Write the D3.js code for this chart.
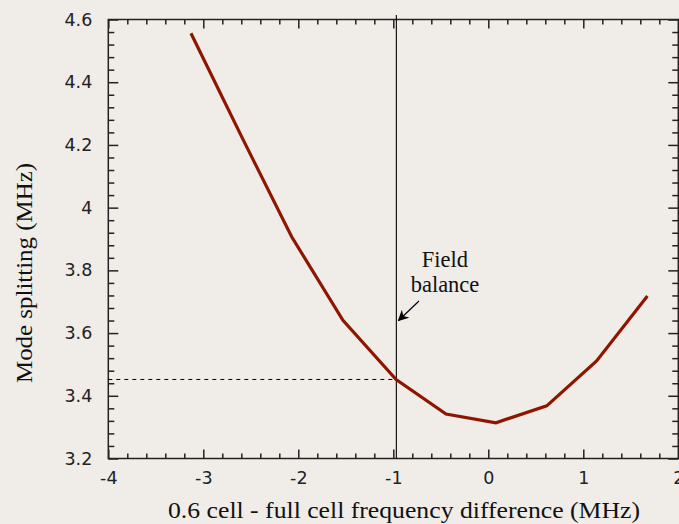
<!DOCTYPE html>
<html><head><meta charset="utf-8">
<script src="https://cdn.jsdelivr.net/npm/d3@7"></script>
<style>
html,body{margin:0;padding:0;background:#f0ece8;}
svg{display:block;}
</style></head>
<body>
<svg id="chart" width="679" height="524"></svg>
<script>
// Data
const freqDiff = [-3.13, -2.58, -2.07, -1.53, -0.97, -0.445, 0.08, 0.615, 1.14, 1.675];
const modeSplit = [4.556, 4.216, 3.907, 3.641, 3.452, 3.342, 3.314, 3.368, 3.511, 3.718];
const xTicks = [-4, -3, -2, -1, 0, 1, 2];
const yTicks = [3.2, 3.4, 3.6, 3.8, 4.0, 4.2, 4.4, 4.6];
const fieldBalanceX = -0.968;
const fieldBalanceY = 3.452;
const xTitle = "0.6 cell - full cell frequency difference (MHz)";
const yTitle = "Mode splitting (MHz)";
const annotation = ["Field", "balance"];

const svg = d3.select("#chart");
const W = 679, H = 524;
const m = {left: 108.3, right: 678.3, top: 19.5, bottom: 458.5};

const x = d3.scaleLinear().domain([-4, 2]).range([m.left, m.right]);
const y = d3.scaleLinear().domain([3.2, 4.6]).range([m.bottom, m.top]);

svg.append("rect").attr("width", W).attr("height", H).attr("fill", "#f0ece8");

const axColor = "#222";
const fmtY = d => (d === 4 ? "4" : d.toFixed(1));
const fmtX = d => String(d);

// minor tick arrays
const xMinor = d3.range(-4, 2.0001, 0.2).filter(v => Math.abs(v - Math.round(v)) > 1e-6);
const yMinor = d3.range(3.2, 4.6001, 0.04).filter(v => Math.abs(v*5 - Math.round(v*5)) > 1e-6);

function styleAxis(g) {
  g.select(".domain").remove();
  g.selectAll("line").attr("stroke", axColor).attr("stroke-width", 1.5);
  g.selectAll("text").attr("fill", "#222").attr("font-family", "DejaVu Sans, sans-serif").attr("font-size", 17.5);
}

// Bottom axis
svg.append("g").attr("transform", `translate(0,${m.bottom})`)
  .call(d3.axisBottom(x).tickValues(xTicks).tickSize(-9).tickPadding(13).tickFormat(fmtX)).call(styleAxis);
svg.append("g").attr("transform", `translate(0,${m.bottom})`)
  .call(d3.axisBottom(x).tickValues(xMinor).tickSize(-5).tickFormat("")).call(styleAxis);

// Top axis
svg.append("g").attr("transform", `translate(0,${m.top})`)
  .call(d3.axisTop(x).tickValues(xTicks).tickSize(-9).tickFormat("")).call(styleAxis);
svg.append("g").attr("transform", `translate(0,${m.top})`)
  .call(d3.axisTop(x).tickValues(xMinor).tickSize(-5).tickFormat("")).call(styleAxis);

// Left axis
svg.append("g").attr("transform", `translate(${m.left},0)`)
  .call(d3.axisLeft(y).tickValues(yTicks).tickSize(-10).tickPadding(16).tickFormat(fmtY)).call(styleAxis);
svg.append("g").attr("transform", `translate(${m.left},0)`)
  .call(d3.axisLeft(y).tickValues(yMinor).tickSize(-6).tickFormat("")).call(styleAxis);

// Right axis
svg.append("g").attr("transform", `translate(${m.right},0)`)
  .call(d3.axisRight(y).tickValues(yTicks).tickSize(-10).tickFormat("")).call(styleAxis);
svg.append("g").attr("transform", `translate(${m.right},0)`)
  .call(d3.axisRight(y).tickValues(yMinor).tickSize(-6).tickFormat("")).call(styleAxis);

// Frame
svg.append("rect").attr("x", m.left).attr("y", m.top)
  .attr("width", m.right - m.left).attr("height", m.bottom - m.top)
  .attr("fill", "none").attr("stroke", axColor).attr("stroke-width", 1.5);

// Field balance vertical line
svg.append("line").attr("x1", x(fieldBalanceX)).attr("x2", x(fieldBalanceX))
  .attr("y1", 15).attr("y2", m.bottom).attr("stroke", "#000").attr("stroke-width", 1.1);

// Dashed horizontal line
svg.append("line").attr("x1", m.left).attr("x2", x(fieldBalanceX))
  .attr("y1", y(fieldBalanceY)).attr("y2", y(fieldBalanceY))
  .attr("stroke", "#000").attr("stroke-width", 1).attr("stroke-dasharray", "4,4");

// Data line
const pts = freqDiff.map((d, i) => [d, modeSplit[i]]);
svg.append("path").datum(pts)
  .attr("d", d3.line().x(d => x(d[0])).y(d => y(d[1])))
  .attr("fill", "none").attr("stroke", "#8e1600").attr("stroke-width", 3.2)
  .attr("stroke-linejoin", "miter");

// Annotation
const ann = svg.append("text").attr("font-family", "Liberation Serif, Times New Roman, serif")
  .attr("font-size", 22.5).attr("fill", "#111").attr("text-anchor", "middle");
ann.append("tspan").attr("x", 445).attr("y", 267).text(annotation[0]);
ann.append("tspan").attr("x", 445).attr("y", 292).text(annotation[1]);

// Arrow
svg.append("defs").append("marker").attr("id", "ah")
  .attr("viewBox", "0 0 10 10").attr("refX", 9).attr("refY", 5)
  .attr("markerWidth", 11).attr("markerHeight", 11).attr("markerUnits", "userSpaceOnUse")
  .attr("orient", "auto")
  .append("path").attr("d", "M0,0 L10,5 L0,10 L3,5 Z").attr("fill", "#000");
svg.append("line").attr("x1", 419).attr("y1", 301).attr("x2", 398.5).attr("y2", 320.5)
  .attr("stroke", "#000").attr("stroke-width", 1.2).attr("marker-end", "url(#ah)");

// Axis titles
svg.append("text").attr("x", 404).attr("y", 518).attr("text-anchor", "middle")
  .attr("font-family", "Liberation Serif, Times New Roman, serif").attr("font-size", 23.5)
  .attr("textLength", 472).attr("lengthAdjust", "spacingAndGlyphs")
  .attr("fill", "#111").text(xTitle);
svg.append("text").attr("transform", "translate(32,273) rotate(-90)").attr("text-anchor", "middle")
  .attr("font-family", "Liberation Serif, Times New Roman, serif").attr("font-size", 23.5)
  .attr("textLength", 220).attr("lengthAdjust", "spacingAndGlyphs")
  .attr("fill", "#111").text(yTitle);
</script>
</body></html>
